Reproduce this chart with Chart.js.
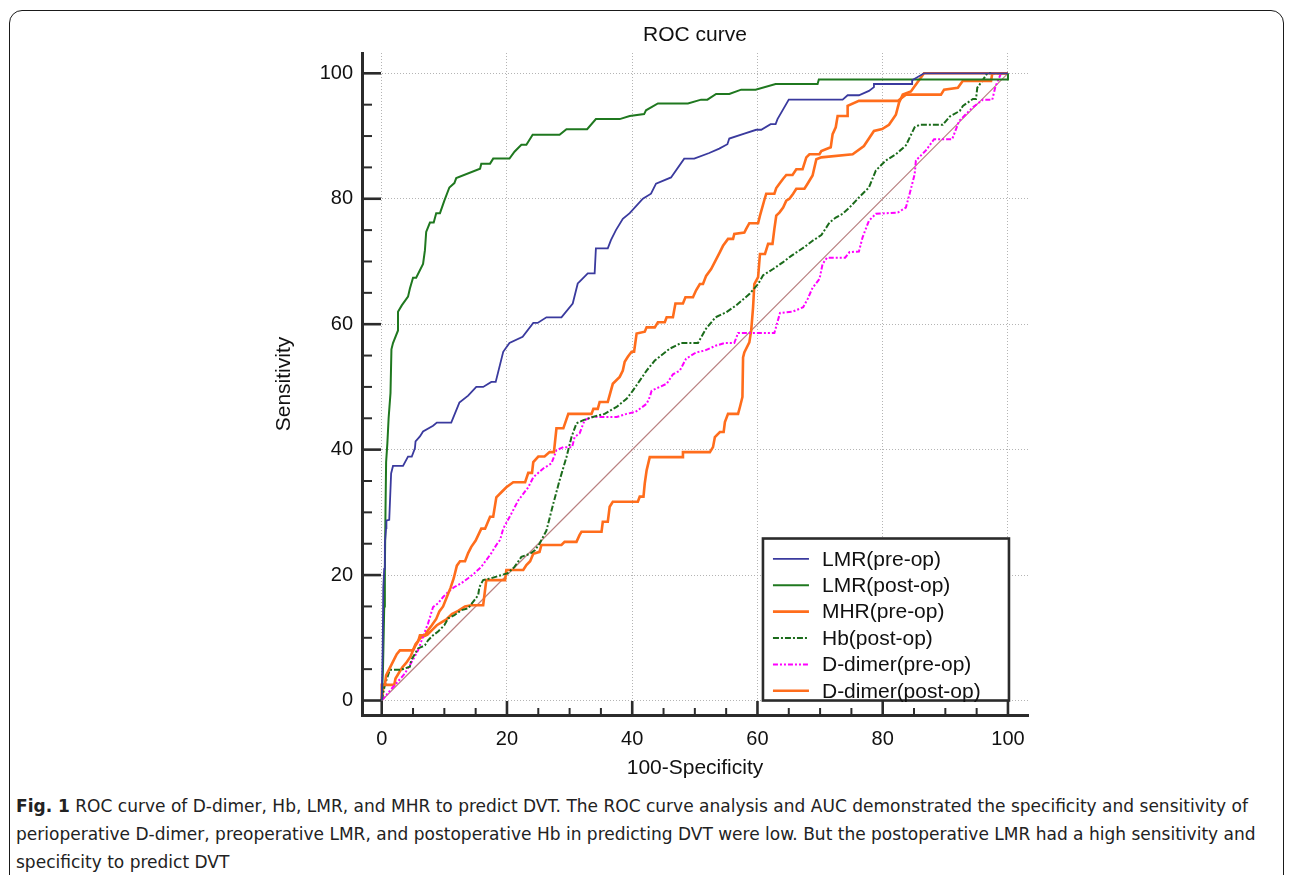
<!DOCTYPE html>
<html>
<head>
<meta charset="utf-8">
<title>ROC curve</title>
<script src="https://cdn.jsdelivr.net/npm/chart.js@4.4.1/dist/chart.umd.min.js"></script>
<style>
  html, body { margin: 0; padding: 0; background: #fff; overflow: hidden; }
  #page { position: relative; width: 1292px; height: 875px; }
  #frame {
    position: absolute; left: 9px; top: 10px; width: 1275px; height: 880px;
    border: 1.5px solid #1a1a1a; border-radius: 13px; box-sizing: border-box;
  }
  #roc { position: absolute; left: 0; top: 0; }
  #caption {
    position: absolute; left: 16px; top: 792px;
    font-family: "Liberation Sans Narrow", "DejaVu Sans Condensed", "Liberation Sans", sans-serif;
    font-size: 18px; line-height: 28px; color: #222;
  }
  #caption .ln { display: block; white-space: nowrap; transform-origin: 0 0; width: max-content; }
</style>
</head>
<body>
<div id="page">
  <div id="frame"></div>
  <canvas id="roc" width="1292" height="790"></canvas>
  <div id="caption">
    <span class="ln"><b>Fig. 1</b> ROC curve of D-dimer, Hb, LMR, and MHR to predict DVT. The ROC curve analysis and AUC demonstrated the specificity and sensitivity of</span>
    <span class="ln">perioperative D-dimer, preoperative LMR, and postoperative Hb in predicting DVT were low. But the postoperative LMR had a high sensitivity and</span>
    <span class="ln">specificity to predict DVT</span>
  </div>
</div>

<script>
/* ------------------------------------------------------------
   Data: [100-specificity, sensitivity] pairs
------------------------------------------------------------ */
var MAJOR_TICKS = [0, 20, 40, 60, 80, 100];

var lmrPre = [
  [0,0],[0.15,8],[0.25,18],[0.4,21],[0.5,25],[0.7,27.5],[0.75,28.7],[1.2,28.8],[1.5,36.2],[1.8,37.4],
  [3.4,37.4],[4.2,38.9],[4.8,38.9],[5.3,40.2],[5.4,41.3],[6.1,42.1],[6.6,42.9],[8.2,43.8],[8.8,44.3],
  [11.1,44.3],[12.4,47.5],[13.8,48.6],[15.1,50],[16.2,50],[17.5,50.8],[18.2,50.8],[19.4,55.6],[20.4,57],
  [22.5,58],[24.2,60.2],[24.9,60.2],[26.3,61.1],[28.7,61.1],[30.5,63.3],[31.3,66.5],[31.6,66.8],[32.9,68.1],
  [34,68.1],[34.2,72.1],[36.1,72.1],[36.6,73.4],[37.4,75],[38.5,76.8],[39.6,77.7],[41.7,80],[43,80.8],
  [43.8,82.4],[46.2,83.4],[48.3,86.4],[49.9,86.4],[52.3,87.3],[53.9,88],[55.2,88.7],[55.5,89.6],[57.9,90.4],
  [59.8,91],[60.6,91],[62.1,91.9],[62.9,91.9],[63.2,92.7],[65,95.8],[73.6,95.8],[74.4,96.5],[76.2,96.5],
  [77.8,97.2],[78.6,97.8],[78.6,98.3],[84.7,98.3],[84.7,98.9],[86.6,100],[100,100]
];

var lmrPost = [
  [0,0],[0.2,5],[0.4,15],[0.5,21],[0.6,30],[0.7,38],[0.9,41],[1.1,45],[1.4,49],[1.55,56],[1.8,57],
  [2.6,59],[2.6,62],[3.2,63],[4.2,64.4],[4.5,65.7],[5,67.4],[5.5,67.4],[6.6,69.6],[6.9,71.8],[7.1,74.7],
  [7.7,76.2],[8.3,76.2],[8.7,77.7],[9.3,77.7],[10,79.7],[10.8,81.8],[11.6,82.5],[11.9,83.3],[15.7,84.8],
  [15.9,85.6],[17.3,85.6],[17.8,86.4],[20.4,86.4],[21.2,87.5],[22.3,88.6],[23.1,88.6],[24.1,90.2],
  [28.4,90.2],[29.5,91.1],[32.8,91.1],[34.2,92.7],[38,92.7],[39.6,93.2],[41.9,93.5],[42.2,94.1],
  [44.1,95.2],[48.9,95.2],[51,95.8],[52,95.8],[53.4,96.7],[55.5,96.7],[57.4,97.4],[59.7,97.4],
  [62.9,98.3],[69.6,98.3],[69.8,99],[100,99],[100,100]
];

var mhrPre = [
  [0,0],[0,2.5],[0.5,2.5],[0.7,4],[1.2,5],[1.6,5.8],[2,6.6],[2.4,7.4],[2.9,8],[5,8],[5.3,8.6],[5.8,9.4],
  [6.1,10.4],[6.9,10.4],[7.4,11.2],[8,12],[8.7,13],[9.2,14.2],[9.8,15],[10.4,16.5],[11,18],[11.5,19.5],
  [12,21.5],[12.5,22.2],[13.3,22.2],[13.8,23.5],[14.3,24.5],[15,25.5],[15.9,27.4],[16.5,27.4],[17.3,29.3],
  [17.8,29.3],[18.3,32.4],[19.1,33.2],[19.9,34],[21,34.8],[22.9,34.8],[23.4,36.3],[24,36.3],[24.2,38],
  [25,38.9],[26,38.9],[26.8,39.6],[27.5,39.6],[27.9,43.4],[29,43.4],[29.8,45.7],[33.5,45.7],[33.8,46.5],
  [34.5,46.5],[34.8,47.6],[36.1,47.6],[36.9,50.5],[38,51.6],[38.5,52.6],[38.8,54],[39.3,54.8],[39.9,55.6],
  [40.3,55.6],[40.7,58.5],[42,58.8],[42.3,59.5],[43.6,59.5],[44.1,60.3],[45.2,60.3],[45.5,61.1],[46.5,61.1],
  [46.9,63.3],[48.1,63.3],[48.5,64.3],[49.7,64.3],[50.2,65.4],[50.8,66.4],[51.3,66.4],[51.8,67.7],
  [52.6,68.8],[54,71.5],[54.5,72.5],[55.3,73.6],[56.1,73.6],[56.3,74.4],[57.9,74.6],[58.2,75.2],[58.7,76.1],
  [60.1,76.1],[60.4,77.3],[61.1,79.8],[61.4,80.8],[62.7,80.8],[63,81.7],[63.5,82.4],[64.1,83.2],[64.6,83.8],
  [65.6,83.8],[66.2,84.7],[67.2,84.7],[67.8,86.6],[68.3,87.1],[69.9,87.1],[70.2,87.6],[71.7,88.2],[72,90.3],
  [72.5,91.4],[72.8,93.2],[74.4,93.2],[74.4,94.8],[76.2,95.6],[82.4,95.6],[83.7,96.6],[89.3,96.6],
  [89.8,97.4],[92,97.7],[92.8,98.8],[97.3,98.8],[97.5,100],[100,100]
];

var hbPost = [
  [0,0],[0.5,2.5],[1.3,4.9],[3.1,4.9],[4.5,5.4],[4.7,6.4],[5.8,8.3],[6.9,8.8],[7.4,9.6],[8.2,10.4],[9,11],
  [10,12],[10.6,13.1],[11.6,13.6],[12.7,14.4],[13.8,14.7],[14.8,16],[15.4,16.8],[15.6,18.1],[16.2,19.2],
  [17.5,19.5],[19.1,20],[20.1,20.3],[21.2,21.3],[22.3,22.9],[23.7,23.4],[24.5,24],[25.2,25],[26.3,27.1],
  [27.4,31.4],[28.4,35.1],[29.5,38.8],[30.3,42],[31.1,44.2],[32.2,44.7],[33.7,45.2],[35.6,45.7],[37.5,46.8],
  [39.1,48.1],[40.1,49.4],[41.2,51],[42.3,52.6],[43.6,54.2],[46,56.1],[47.8,57],[50.5,57],[51.8,59.3],
  [53.3,61.1],[55,61.9],[56.6,63],[58.7,64.8],[60.1,66.4],[60.9,67.8],[62.5,68.8],[64.1,69.9],[65.4,70.9],
  [67.5,72.3],[68.8,73.3],[70.2,74.2],[71.5,76.2],[72.5,77],[73.6,77.6],[74.7,78.6],[76.2,80.2],[77.8,81.8],
  [78.9,84.5],[80.5,86.1],[82.1,87.1],[83.7,88.5],[85.1,91.4],[85.9,91.8],[89.6,91.8],[90.7,93.1],[92.3,94],
  [92.8,94.8],[94.4,95.9],[94.9,95.9],[95.1,97.7],[95.9,98.8],[96.7,100],[100,100]
];

var ddPre = [
  [0,0],[1.5,1.8],[3.7,4.3],[5,6.5],[5.8,8],[6.6,10.2],[7.4,12.3],[8.2,14.9],[9,15.5],[9.8,16.5],[10.6,17.3],
  [11.6,18.1],[12.7,18.7],[13.8,19.5],[14.8,20.3],[15.9,21.3],[16.7,22.4],[17.5,23.5],[18.3,24.8],[18.9,25.6],
  [19.4,27.4],[20.7,29.8],[21.8,31.9],[23.4,34],[24.2,35.6],[25.8,37],[27.1,37.8],[27.9,39.9],[29,40.4],
  [30.4,40.4],[30.8,42],[31.6,42.6],[32.4,44.7],[33.5,45.2],[37.5,45.2],[39.1,45.7],[40.5,46],[42.3,47.3],
  [42.8,48.4],[43.1,49.4],[44.6,50.1],[45.5,50.5],[46.5,52],[47.6,52.6],[48.6,54.5],[50.2,55.5],[51.6,55.8],
  [53.4,56.6],[54.8,57],[56.3,57],[56.9,58.6],[62.7,58.6],[63.6,61.8],[65.6,62],[67.3,62.7],[68,64],
  [68.8,65.8],[69.9,67.2],[70.4,69.6],[71.1,70.6],[74,70.6],[74.7,71.5],[76.2,71.6],[76.8,73.9],[77.8,76.5],
  [78.9,77.6],[82.4,77.8],[83.7,78.6],[84.3,80.8],[85.1,83.9],[85.3,86.1],[86.9,87.7],[88.2,89.5],
  [91.1,89.5],[92.2,92.4],[93.3,93.5],[94.4,94.6],[96,95.8],[97.5,95.8],[98,97.9],[98.9,100],[100,100]
];

var ddPost = [
  [0,0],[0.3,2.5],[2,2.5],[2.2,3.5],[2.8,4.5],[3.3,5.3],[3.9,6],[4.6,7],[5,8],[5.4,9],[6.2,10],[7.3,10.5],
  [8.1,11.3],[8.8,12],[9.6,12.5],[10.4,13],[11.2,13.8],[12.2,14.3],[13.3,15],[14.3,15.2],[16.2,15.2],
  [16.7,19.2],[19.7,19.2],[19.9,20.8],[22.6,20.8],[23.1,21.6],[23.7,22.2],[24.2,23.4],[25.2,23.7],
  [25.5,24.8],[28.7,24.8],[29.2,25.3],[31.1,25.3],[31.6,26.4],[31.9,26.9],[35.1,26.9],[35.3,28.5],
  [36.1,28.5],[36.4,30.9],[36.9,31.7],[40.9,31.7],[41.2,32.5],[41.8,32.5],[42,34.6],[42.3,36.7],
  [42.8,38.8],[48.1,38.8],[48.1,39.6],[52.4,39.6],[52.9,40.4],[53.2,42],[54,42.8],[54.6,42.8],[54.8,44.4],
  [55.3,45.7],[56.9,45.7],[57.2,46.8],[57.6,48.4],[57.7,54.7],[57.9,55.5],[58.7,57.1],[59,59],[59.3,62.7],
  [59.5,66.4],[60.1,67.5],[60.4,71.2],[61.2,71.2],[61.7,72.8],[62.4,72.8],[62.7,75.2],[63,77.3],[63.5,77.8],
  [64.1,78.6],[64.6,79.7],[65.1,80],[65.7,80.8],[66.2,81.6],[67.5,81.6],[68,82.4],[68.8,83.7],[69.4,86.3],
  [70.2,86.6],[75.2,87.1],[77,88.4],[78.6,90.8],[79.9,91.1],[81,91.8],[82.1,93.4],[82.6,95.3],[83.2,96.6],
  [84.5,97.1],[85.5,98.5],[86.6,100],[100,100]
];

var chance = [[0,0],[100,100]];

var LABELS = ['LMR(pre-op)', 'LMR(post-op)', 'MHR(pre-op)', 'Hb(post-op)', 'D-dimer(pre-op)', 'D-dimer(post-op)'];


/* ------------------------------------------------------------
   Styles
------------------------------------------------------------ */
var COLORS = {
  blue:    '#3a3a9e',
  green:   '#1f781f',
  orange:  '#ff6d1c',
  hb:      '#1b6b1b',
  magenta: '#ff00ff',
  chance:  '#b98080',
  axis:    '#2b2b2b',
  grid:    '#b4b4b4',
  text:    '#111111'
};

var FONT = "'Liberation Sans', Arial, sans-serif";

function toPoints(pairs) {
  return pairs.map(function (p) { return { x: p[0], y: p[1] }; });
}

function series(label, pairs, color, width, dash) {
  return {
    label: label,
    data: toPoints(pairs),
    borderColor: color,
    backgroundColor: color,
    borderWidth: width,
    borderDash: dash || [],
    pointRadius: 0,
    tension: 0,
    fill: false
  };
}


/* ------------------------------------------------------------
   Plugin: inward tick marks (major + minor) and boxed legend
------------------------------------------------------------ */
var rocDecor = {
  id: 'rocDecor',
  afterDraw: function (chart) {
    var ctx = chart.ctx;
    var xs = chart.scales.x;
    var ys = chart.scales.y;
    var a = chart.chartArea;

    ctx.save();
    ctx.strokeStyle = COLORS.axis;
    for (var v = 0; v <= 100; v += 5) {
      var major = v % 20 === 0;
      ctx.lineWidth = major ? 2.6 : 2;
      var px = xs.getPixelForValue(v);
      ctx.beginPath();
      ctx.moveTo(px, a.bottom);
      ctx.lineTo(px, a.bottom - (major ? 14 : 7));
      ctx.stroke();
      var py = ys.getPixelForValue(v);
      ctx.beginPath();
      ctx.moveTo(a.left, py);
      ctx.lineTo(a.left + (major ? 19 : 10), py);
      ctx.stroke();
    }

    // legend box, anchored to the (100, 0) corner
    var right = xs.getPixelForValue(100) + 1;
    var bottom = ys.getPixelForValue(0);
    var left = right - 246;
    var top = bottom - 162;
    ctx.fillStyle = '#ffffff';
    ctx.fillRect(left, top, right - left, bottom - top);
    ctx.lineWidth = 2.6;
    ctx.strokeStyle = COLORS.axis;
    ctx.strokeRect(left, top, right - left, bottom - top);

    ctx.font = '21px ' + FONT;
    ctx.textBaseline = 'middle';
    ctx.textAlign = 'left';
    for (var i = 0; i < LABELS.length; i++) {
      var ds = chart.data.datasets[i];
      var rowY = top + 20.3 + i * 26.4;
      ctx.save();
      ctx.strokeStyle = ds.borderColor;
      ctx.lineWidth = ds.borderWidth;
      ctx.setLineDash(ds.borderDash);
      ctx.beginPath();
      ctx.moveTo(left + 10, rowY);
      ctx.lineTo(left + 46, rowY);
      ctx.stroke();
      ctx.restore();
      ctx.fillStyle = COLORS.text;
      ctx.fillText(LABELS[i], left + 59, rowY + 1);
    }
    ctx.restore();
  }
};


/* ------------------------------------------------------------
   Axis helpers
------------------------------------------------------------ */
function majorTicks(scale) {
  scale.ticks = MAJOR_TICKS.map(function (v) { return { value: v }; });
}

function axisCommon() {
  return {
    type: 'linear',
    afterBuildTicks: majorTicks,
    grid: { color: COLORS.grid, lineWidth: 1, drawTicks: false },
    border: { display: true, color: COLORS.axis, width: 3, dash: [1, 2] },
    ticks: { color: COLORS.text, font: { size: 20, family: FONT } }
  };
}

var xAxis = axisCommon();
xAxis.min = -3.15;
xAxis.max = 103.2;
xAxis.ticks.padding = 12;
xAxis.afterFit = function (s) { s.height = 69.6; };
xAxis.title = { display: true, text: '100-Specificity', color: COLORS.text, font: { size: 21, family: FONT }, padding: { top: 4, bottom: 4 } };

var yAxis = axisCommon();
yAxis.min = -2.31;
yAxis.max = 103.24;
yAxis.ticks.padding = 9;
yAxis.afterFit = function (s) { s.width = 94; };
yAxis.title = { display: true, text: 'Sensitivity', color: COLORS.text, font: { size: 21, family: FONT }, padding: { top: 4, bottom: 4 } };


/* ------------------------------------------------------------
   Chart
------------------------------------------------------------ */
new Chart(document.getElementById('roc'), {
  type: 'line',
  data: {
    datasets: [
      series(LABELS[0], lmrPre, COLORS.blue, 1.8),
      series(LABELS[1], lmrPost, COLORS.green, 2),
      series(LABELS[2], mhrPre, COLORS.orange, 2.6),
      series(LABELS[3], hbPost, COLORS.hb, 2, [6, 2, 2, 2]),
      series(LABELS[4], ddPre, COLORS.magenta, 2, [5, 2, 2, 2, 2, 2]),
      series(LABELS[5], ddPost, COLORS.orange, 2.6),
      series('chance', chance, COLORS.chance, 1.2)
    ]
  },
  options: {
    responsive: false,
    animation: false,
    layout: { padding: { left: 268, right: 264, top: 10, bottom: 5.4 } },
    plugins: {
      legend: { display: false },
      tooltip: { enabled: false },
      title: {
        display: true,
        fullSize: false,
        text: 'ROC curve',
        color: COLORS.text,
        font: { size: 21, weight: 'normal', family: FONT },
        padding: { top: 12.4, bottom: 5.4 }
      }
    },
    scales: { x: xAxis, y: yAxis }
  },
  plugins: [rocDecor]
});


/* ------------------------------------------------------------
   Caption: squeeze each line to the printed width
------------------------------------------------------------ */
(function fitCaption() {
  var lines = document.querySelectorAll('#caption .ln');
  var w = lines[0].getBoundingClientRect().width;
  var k = 1232 / w;
  lines.forEach(function (el) { el.style.transform = 'scaleX(' + k + ')'; });
})();
</script>
</body>
</html>
